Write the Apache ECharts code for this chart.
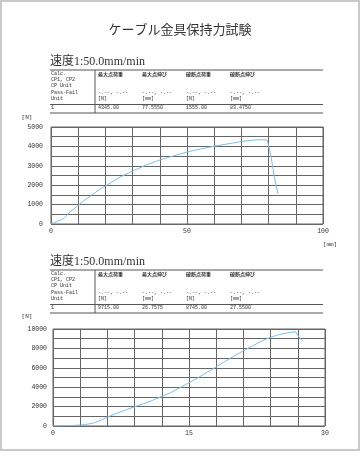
<!DOCTYPE html>
<html><head><meta charset="utf-8">
<script src="https://cdn.jsdelivr.net/npm/echarts@6/dist/echarts.min.js"></script>
<style>html,body{margin:0;padding:0;background:#fff}#c{width:360px;height:451px}</style>
</head><body><div id="c"></div>
<script>
var title = "ケーブル金具保持力試験";
var speedLabel = "速度1:50.0mm/min";
var rowLabels = ["Calc.", "CP1, CP2", "CP Unit", "Pass-Fail", "Unit", "1"];
var colHeaders = ["最大点荷重", "最大点伸び", "破断点荷重", "破断点伸び"];
var passFail = ["-.--, -.--", "-.--, -.--", "-.--, -.--", "-.--, -.--"];
var units = ["[N]", "[mm]", "[N]", "[mm]"];
var results1 = ["4345.00", "77.5550", "1555.00", "83.4750"];
var results2 = ["9715.00", "26.7575", "8745.00", "27.5500"];

var x1 = [0, 2, 4, 5, 6, 7, 8, 10, 12, 15, 18, 20, 25, 30, 35, 40, 45, 50, 55, 60, 65, 70, 74, 77.555, 79.5, 80, 81, 82, 83.475];
var y1 = [0, 110, 240, 330, 470, 620, 740, 960, 1190, 1500, 1790, 1960, 2390, 2730, 3040, 3300, 3510, 3710, 3870, 4010, 4130, 4250, 4320, 4345, 4330, 4250, 3400, 2500, 1555];

var x2 = [0, 1, 2, 3, 3.5, 4, 4.5, 5, 5.5, 6, 7, 8, 9, 10, 11, 12, 13, 14, 15, 16, 17, 18, 19, 20, 21, 22, 23, 24, 25, 26, 26.7575, 27.1, 27.3, 27.55];
var y2 = [0, 20, 50, 100, 150, 220, 320, 480, 700, 930, 1300, 1650, 1980, 2300, 2650, 3050, 3450, 3950, 4450, 4980, 5530, 6100, 6680, 7230, 7750, 8250, 8750, 9150, 9450, 9620, 9715, 9200, 9000, 8745];

var xTicks1 = [0, 50, 100];
var yTicks1 = [0, 1000, 2000, 3000, 4000, 5000];
var xTicks2 = [0, 15, 30];
var yTicks2 = [0, 2000, 4000, 6000, 8000, 10000];

function pairs(xs, ys) { return xs.map(function (v, i) { return [v, ys[i]]; }); }

var TXT = '#333';
var GRIDC = '#666';
var tableFont = '5px "Liberation Mono", "Noto Sans CJK JP", monospace';
var colX = [98, 142, 186, 230];

function txt(x, y, s, font, align) {
  var st = { text: s, font: font, fill: TXT, textAlign: align || 'left', textVerticalAlign: 'middle' };
  return { type: 'text', x: x, y: y, style: st, silent: true };
}
function hline(x1_, x2_, y, w) {
  return { type: 'line', shape: { x1: x1_, y1: y, x2: x2_, y2: y }, style: { stroke: '#555', lineWidth: w || 1 }, silent: true };
}
function vline(x, ya, yb) {
  return { type: 'line', shape: { x1: x, y1: ya, x2: x, y2: yb }, style: { stroke: '#555', lineWidth: 1 }, silent: true };
}

function section(off, results) {
  var g = [];
  g.push(txt(50, 62 + off, speedLabel, '12px "Liberation Serif", "Noto Sans CJK JP", serif'));
  g.push(hline(50, 323, 70 + off, 1));
  g.push(vline(95, 70 + off, 113 + off));
  var ry = [74, 80, 86, 93, 99, 108];
  rowLabels.forEach(function (s, i) { g.push(txt(51, ry[i] + off, s, tableFont)); });
  colHeaders.forEach(function (s, i) { g.push(txt(colX[i], ry[0] + off, s, 'bold 5px "Noto Sans CJK JP", sans-serif')); });
  passFail.forEach(function (s, i) { g.push(txt(colX[i], ry[3] + off, s, tableFont)); });
  units.forEach(function (s, i) { g.push(txt(colX[i], ry[4] + off, s, tableFont)); });
  results.forEach(function (s, i) { g.push(txt(colX[i], ry[5] + off, s, tableFont)); });
  g.push(hline(50, 323, 104.5 + off, 1));
  g.push(hline(50, 323, 113 + off, 1.2));
  return g;
}

var graphics = [
  { type: 'rect', shape: { x: 1, y: 1, width: 358, height: 449 }, style: { fill: 'none', stroke: '#c9c9c9', lineWidth: 2 }, silent: true },
  txt(180, 29, title, '13px "Noto Sans CJK JP", sans-serif', 'center'),
  txt(27, 117, '[N]', '6px "Liberation Mono", monospace', 'center'),
  txt(330, 244, '[mm]', '6px "Liberation Mono", monospace', 'center'),
  txt(27, 316, '[N]', '6px "Liberation Mono", monospace', 'center')
].concat(section(0, results1)).concat(section(200, results2));

function makeX(idx, max, interval, ticks) {
  return {
    type: 'value', gridIndex: idx, min: 0, max: max, interval: interval,
    axisLine: { show: false }, axisTick: { show: false },
    splitLine: { show: true, lineStyle: { color: GRIDC, width: 1 } },
    axisLabel: { color: TXT, fontSize: 6.5, fontFamily: 'Liberation Mono', margin: 4,
      formatter: function (v) { return ticks.indexOf(v) >= 0 ? String(v) : ''; } }
  };
}
function makeY(idx, max, interval, ticks, margin) {
  return {
    type: 'value', gridIndex: idx, min: 0, max: max, interval: interval,
    axisLine: { show: false }, axisTick: { show: false },
    splitLine: { show: true, lineStyle: { color: GRIDC, width: 1 } },
    axisLabel: { color: TXT, fontSize: 6.5, fontFamily: 'Liberation Mono', margin: margin,
      formatter: function (v) { return ticks.indexOf(v) >= 0 ? String(v) : ''; } }
  };
}

var chart = echarts.init(document.getElementById('c'), null, { renderer: 'canvas' });
chart.setOption({
  backgroundColor: '#fff',
  animation: false,
  grid: [
    { left: 51, top: 127, width: 272, height: 97, show: true, borderColor: GRIDC, borderWidth: 1 },
    { left: 53, top: 329, width: 272, height: 97, show: true, borderColor: GRIDC, borderWidth: 1 }
  ],
  xAxis: [makeX(0, 100, 10, xTicks1), makeX(1, 30, 3, xTicks2)],
  yAxis: [makeY(0, 5000, 500, yTicks1, 8), makeY(1, 10000, 1000, yTicks2, 6)],
  series: [
    { type: 'line', xAxisIndex: 0, yAxisIndex: 0, data: pairs(x1, y1), showSymbol: false, smooth: false,
      lineStyle: { color: '#7dbfe8', width: 1 } },
    { type: 'line', xAxisIndex: 1, yAxisIndex: 1, data: pairs(x2, y2), showSymbol: false, smooth: false,
      lineStyle: { color: '#7dbfe8', width: 1 } }
  ],
  graphic: graphics
});
</script></body></html>
